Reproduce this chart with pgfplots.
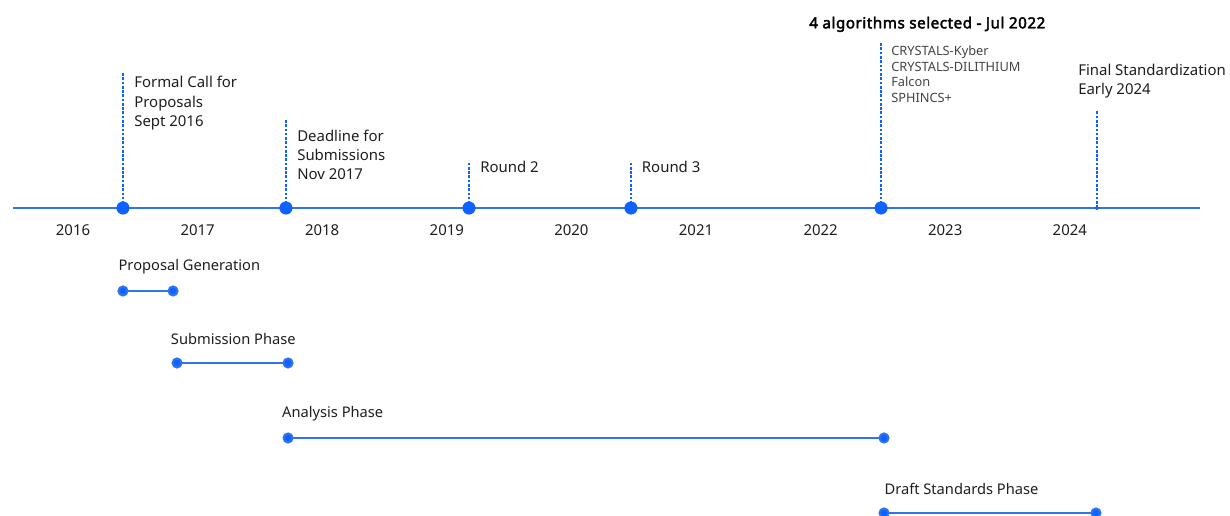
\documentclass[border=0pt]{standalone}
\usepackage{pgfplots}
\pgfplotsset{compat=1.18}
\usepackage{fontspec}
\setmainfont{Noto Sans}
\newfontfamily\tfont{Noto Sans}[FakeBold=2.6, LetterSpace=3.5]
\definecolor{ibmblue}{HTML}{0F62FE}
\definecolor{lineblue}{HTML}{2F73F0}
\definecolor{txt}{HTML}{1E1E1E}
\definecolor{txtl}{HTML}{444444}
\newcommand{\ms}{\fontsize{11.2}{14}\selectfont}
\newcommand{\ph}{\fontsize{11}{13}\selectfont}
\begin{document}
\begin{tikzpicture}
\begin{axis}[
  width=922.5pt, height=387pt, scale only axis,
  xmin=2015.4141, xmax=2025.2857, ymin=-516, ymax=0,
  hide axis, clip=false,
]
% main timeline
\addplot[lineblue, line width=1.9pt] coordinates {(2015.518,-208) (2025.045,-208)};
% dashed milestone stems
\addplot[ibmblue, line width=0.9pt, dash pattern=on 2pt off 1.2pt] coordinates {(2016.401,-208) (2016.401,-73)};
\addplot[ibmblue, line width=0.9pt, dash pattern=on 2pt off 1.2pt] coordinates {(2017.709,-208) (2017.709,-120)};
\addplot[ibmblue, line width=0.9pt, dash pattern=on 2pt off 1.2pt] coordinates {(2019.178,-208) (2019.178,-162)};
\addplot[ibmblue, line width=0.9pt, dash pattern=on 2pt off 1.2pt] coordinates {(2020.478,-208) (2020.478,-162)};
\addplot[ibmblue, line width=0.9pt, dash pattern=on 2pt off 1.2pt] coordinates {(2022.485,-208) (2022.485,-43)};
\addplot[ibmblue, line width=0.9pt, dash pattern=on 2pt off 1.2pt] coordinates {(2024.218,-208) (2024.218,-110)};
% milestone dots
\addplot[only marks, mark=*, mark size=4.7pt, ibmblue, mark options={draw=none, fill=ibmblue}]
  coordinates {(2016.401,-208) (2017.709,-208) (2019.178,-208) (2020.478,-208) (2022.485,-208)};
\addplot[only marks, mark=*, mark size=1.4pt, ibmblue, mark options={draw=none, fill=ibmblue}]
  coordinates {(2024.218,-208)};
% phases
\addplot[lineblue, line width=1.5pt, mark=*, mark size=3.4pt, mark options={draw=none, fill=ibmblue}]
  coordinates {(2016.401,-291) (2016.803,-291)};
\addplot[lineblue, line width=1.5pt, mark=*, mark size=3.4pt, mark options={draw=none, fill=ibmblue}]
  coordinates {(2016.835,-363) (2017.726,-363)};
\addplot[lineblue, line width=1.5pt, mark=*, mark size=3.4pt, mark options={draw=none, fill=ibmblue}]
  coordinates {(2017.726,-438) (2022.509,-438)};
\addplot[lineblue, line width=1.5pt, mark=*, mark size=3.4pt, mark options={draw=none, fill=ibmblue}]
  coordinates {(2022.509,-513) (2024.210,-513)};
% year labels
\foreach \y in {2016,...,2024}{
  \edef\tmp{\noexpand\node[anchor=base, inner sep=0pt, font=\noexpand\ms, text=txt] at (axis cs:\y,-236) {\y};}
  \tmp
}
% milestone texts
\begin{scope}[every node/.style={anchor=base west, inner sep=0pt, font=\ms, text=txt}]
\node at (axis cs:2016.490,-88) {Formal Call for};
\node at (axis cs:2016.490,-107.7) {Proposals};
\node at (axis cs:2016.490,-126.7) {Sept 2016};
\node at (axis cs:2017.798,-141.7) {Deadline for};
\node at (axis cs:2017.798,-161) {Submissions};
\node at (axis cs:2017.798,-180) {Nov 2017};
\node at (axis cs:2019.267,-172.7) {Round 2};
\node at (axis cs:2020.564,-172.7) {Round 3};
\node at (axis cs:2024.066,-76) {Final Standardization};
\node at (axis cs:2024.066,-95) {Early 2024};
\end{scope}
\node[anchor=base west, inner sep=0pt, font=\fontsize{11.4}{13}\selectfont\tfont, text=black] at (axis cs:2021.907,-28.3) {4 algorithms selected - Jul 2022};
\begin{scope}[every node/.style={anchor=base west, inner sep=0pt, font=\fontsize{9.6}{11}\selectfont, text=txtl}]
\node at (axis cs:2022.565,-56) {CRYSTALS-Kyber};
\node at (axis cs:2022.565,-71.5) {CRYSTALS-DILITHIUM};
\node at (axis cs:2022.565,-87) {Falcon};
\node at (axis cs:2022.565,-102.5) {SPHINCS+};
\end{scope}
% phase labels
\begin{scope}[every node/.style={anchor=base west, inner sep=0pt, font=\ph, text=txt}]
\node at (axis cs:2016.364,-270.7) {Proposal Generation};
\node at (axis cs:2016.784,-344.3) {Submission Phase};
\node at (axis cs:2017.677,-417.3) {Analysis Phase};
\node at (axis cs:2022.511,-495) {Draft Standards Phase};
\end{scope}
\end{axis}
\pgfresetboundingbox
\path (current axis.south west) rectangle (current axis.north east);
\end{tikzpicture}
\end{document}
